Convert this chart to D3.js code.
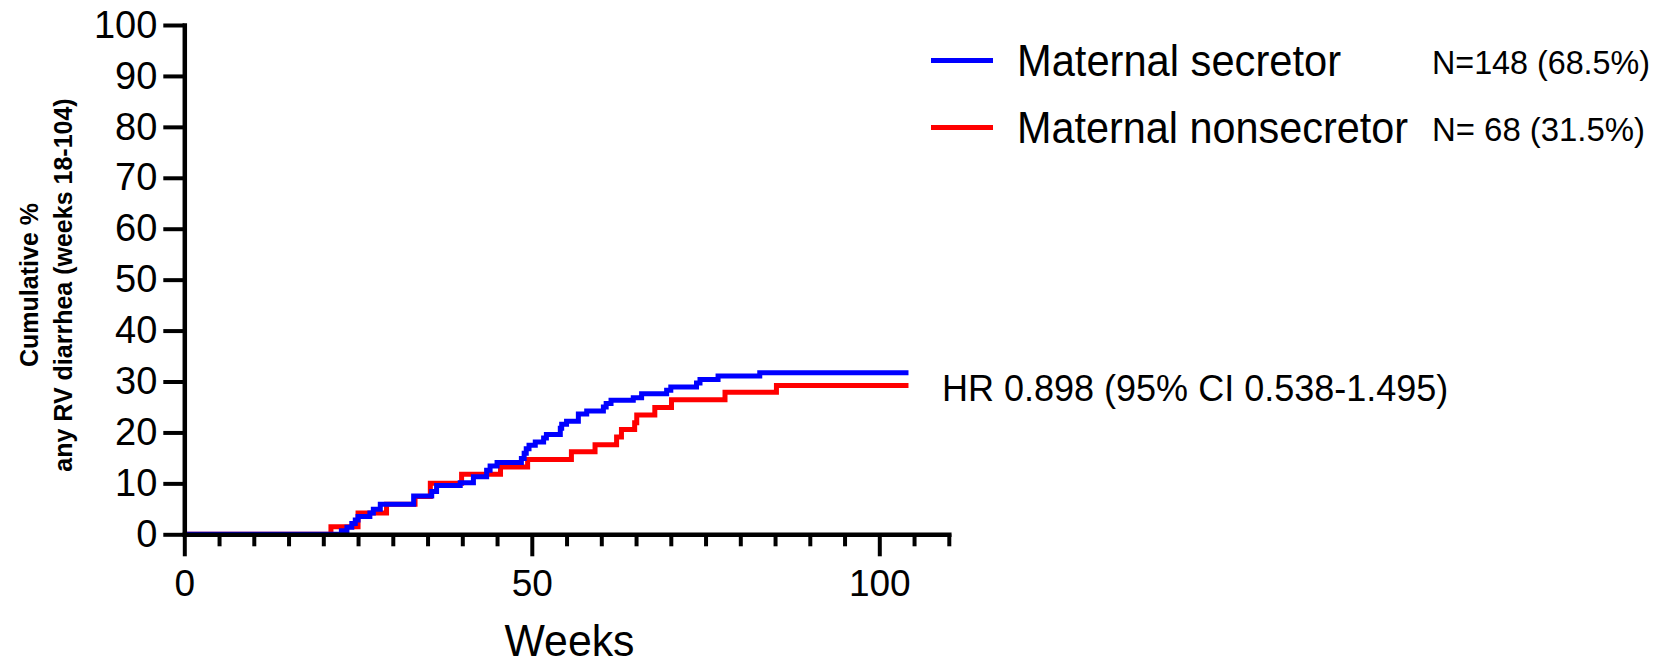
<!DOCTYPE html>
<html>
<head>
<meta charset="utf-8">
<script src="https://cdn.jsdelivr.net/npm/d3@7"></script>
<style>
  body { margin: 0; background: #fff; }
  text { font-family: "Liberation Sans", Arial, sans-serif; fill: #000; }
</style>
</head>
<body>
<div id="holder"></div>
<script>
// cumulative % by week
const blueWeeks = [0, 22.6, 23.4, 24.1, 24.6, 25.0, 26.7, 27.2, 28.2, 33.0, 35.6, 36.3, 39.7, 41.6, 43.5, 44.0, 45.0, 48.5, 48.9, 49.2, 49.6, 50.5, 51.7, 52.1, 54.1, 54.3, 55.0, 56.7, 57.9, 60.3, 60.7, 61.4, 64.6, 65.8, 69.4, 70.0, 73.7, 74.2, 76.8, 82.8, 104.2];
const bluePct   = [0, 0.7, 1.4, 2.1, 2.8, 3.5, 4.2, 4.9, 5.9, 7.5, 8.4, 9.6, 10.1, 11.3, 12.6, 13.4, 14.1, 14.9, 15.9, 16.8, 17.5, 18.1, 18.9, 19.6, 20.8, 21.6, 22.2, 23.6, 24.2, 25.0, 25.7, 26.3, 26.8, 27.6, 28.3, 28.9, 29.7, 30.4, 31.1, 31.7, 31.7];

const redWeeks = [0, 21.1, 25.0, 29.1, 33.2, 35.4, 39.9, 45.5, 49.4, 55.7, 59.1, 62.2, 62.9, 64.8, 65.1, 67.7, 70.1, 77.8, 85.2, 104.2];
const redPct   = [0, 1.5, 4.2, 5.9, 7.4, 10.0, 11.8, 13.2, 14.7, 16.2, 17.6, 19.1, 20.6, 21.9, 23.4, 24.9, 26.4, 27.9, 29.2, 29.2];

const seriesNames = ["Maternal secretor", "Maternal nonsecretor"];
const seriesN = ["N=148 (68.5%)", "N= 68 (31.5%)"];
const seriesColors = ["#0000ff", "#ff0000"];
const yTicks = [0, 10, 20, 30, 40, 50, 60, 70, 80, 90, 100];
const xMajor = [0, 50, 100];
const xMinor = d3.range(5, 111, 5).filter(v => v % 50 != 0);
const hrText = "HR 0.898 (95% CI 0.538-1.495)";

const w = 1666;
const h = 664;

let svg = d3.select("#holder")
    .append("svg")
    .attr("width", w)
    .attr("height", h);

let xScale = d3.scaleLinear().domain([0, 110]).range([184.3, 948.8]);
let yScale = d3.scaleLinear().domain([0, 100]).range([534.3, 25]);

// curves, red under blue
const toPoints = (wk, pc) => wk.map((d, i) => [d, pc[i]]);
let valueLine = d3.line()
    .x(d => xScale(d[0]))
    .y(d => yScale(d[1]))
    .curve(d3.curveStepAfter);

[[redWeeks, redPct, seriesColors[1]], [blueWeeks, bluePct, seriesColors[0]]].forEach(s => {
    svg.append("path")
        .attr("fill", "none")
        .attr("stroke", s[2])
        .attr("stroke-width", 5)
        .attr("d", valueLine(toPoints(s[0], s[1])));
});

//Axes
const styleAxis = g => {
    g.select(".domain").attr("stroke-width", 4.5).attr("stroke-linecap", "square");
    g.selectAll(".tick line").attr("stroke-width", 4);
};

const yAxis = d3.axisLeft(yScale).tickValues(yTicks).tickSize(21).tickSizeOuter(0).tickPadding(6);
svg.append("g")
    .attr("transform", "translate(" + xScale(0) + ",0)")
    .call(yAxis)
    .call(styleAxis)
    .selectAll("text")
    .style("font-size", "38px")
    .style("font-family", "'Liberation Sans', Arial, sans-serif");

const xMinorAxis = d3.axisBottom(xScale).tickValues(xMinor).tickSize(12).tickSizeOuter(0).tickFormat("");
svg.append("g")
    .attr("transform", "translate(0," + yScale(0) + ")")
    .call(xMinorAxis)
    .call(styleAxis);

const xMajorAxis = d3.axisBottom(xScale).tickValues(xMajor).tickSize(22).tickSizeOuter(0).tickPadding(13);
svg.append("g")
    .attr("transform", "translate(0," + yScale(0) + ")")
    .call(xMajorAxis)
    .call(styleAxis)
    .call(g => g.select(".domain").remove())
    .selectAll("text")
    .style("font-size", "37px")
    .style("font-family", "'Liberation Sans', Arial, sans-serif");

//Labels
svg.append("text")
    .attr("x", 569.5)
    .attr("y", 656)
    .attr("text-anchor", "middle")
    .attr("textLength", 130)
    .attr("lengthAdjust", "spacingAndGlyphs")
    .style("font-size", "44px")
    .text("Weeks");

let yLabel = svg.append("text")
    .attr("transform", "translate(0,285) rotate(-90)")
    .attr("text-anchor", "middle")
    .style("font-size", "25px")
    .style("font-weight", "bold");
yLabel.append("tspan").attr("x", 0).attr("y", 38).text("Cumulative %");
yLabel.append("tspan").attr("x", 0).attr("y", 72).text("any RV diarrhea (weeks 18-104)");

// legend
const legY = [60.6, 127.5];
const nameLen = [324, 391];
const nLen = [218, 213];
seriesNames.forEach((name, i) => {
    svg.append("line")
        .attr("x1", 931).attr("x2", 993)
        .attr("y1", legY[i]).attr("y2", legY[i])
        .attr("stroke", seriesColors[i])
        .attr("stroke-width", 5);
    svg.append("text")
        .attr("x", 1017)
        .attr("y", legY[i] + 15)
        .attr("textLength", nameLen[i])
        .attr("lengthAdjust", "spacingAndGlyphs")
        .style("font-size", "44px")
        .text(name);
    svg.append("text")
        .attr("x", 1432)
        .attr("y", legY[i] + 13)
        .attr("textLength", nLen[i])
        .attr("lengthAdjust", "spacingAndGlyphs")
        .style("font-size", "33px")
        .text(seriesN[i]);
});

svg.append("text")
    .attr("x", 942)
    .attr("y", 401)
    .style("font-size", "36px")
    .text(hrText);
</script>
</body>
</html>
